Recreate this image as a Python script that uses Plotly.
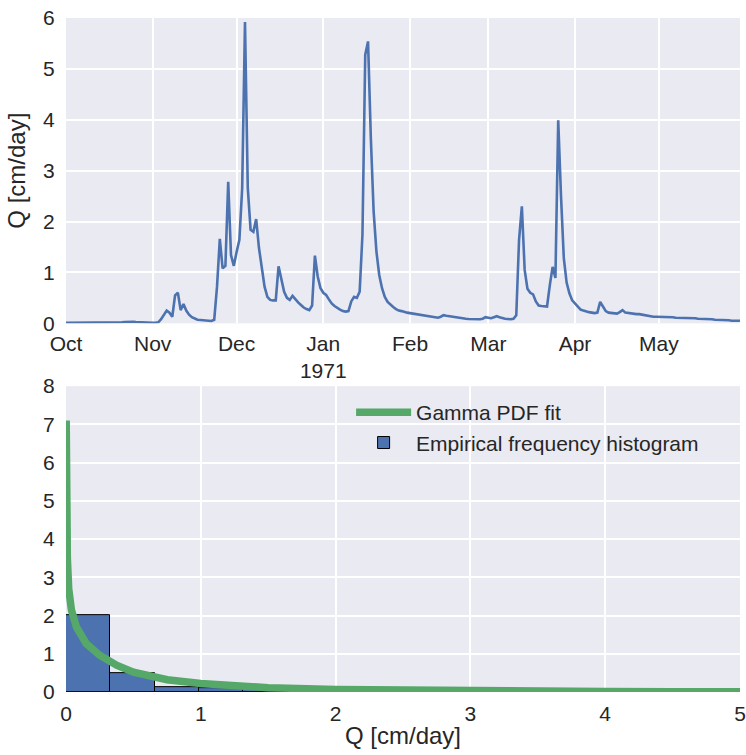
import pandas as pd
import plotly.graph_objects as go

# ---- daily discharge Q [cm/day], Oct 1970 - May 1971 ----
q_oct = [0.01, 0.01, 0.01, 0.01, 0.01, 0.01, 0.01, 0.01, 0.01, 0.01,
         0.01, 0.01, 0.01, 0.01, 0.01, 0.01, 0.01, 0.01, 0.01, 0.015,
         0.02, 0.025, 0.03, 0.035, 0.03, 0.025, 0.02, 0.015, 0.01, 0.01,
         0.01]
q_nov = [0.01, 0.01, 0.02, 0.08, 0.16, 0.25, 0.21, 0.13, 0.55, 0.60,
         0.26, 0.38, 0.25, 0.17, 0.12, 0.09, 0.07, 0.065, 0.06, 0.055,
         0.05, 0.045, 0.07, 0.72, 1.66, 1.08, 1.13, 2.78, 1.34, 1.13]
q_dec = [1.40, 1.64, 2.66, 5.92, 2.66, 1.84, 1.80, 2.05, 1.48, 1.05,
         0.72, 0.52, 0.46, 0.45, 0.45, 1.12, 0.89, 0.62, 0.50, 0.46,
         0.54, 0.47, 0.41, 0.36, 0.31, 0.28, 0.26, 0.35, 1.33, 0.92,
         0.69]
q_jan = [0.60, 0.56, 0.47, 0.39, 0.34, 0.30, 0.27, 0.24, 0.23, 0.24,
         0.43, 0.52, 0.50, 0.62, 1.74, 5.28, 5.54, 3.64, 2.20, 1.41,
         0.95, 0.69, 0.52, 0.42, 0.36, 0.32, 0.28, 0.25, 0.24, 0.22,
         0.21]
q_feb = [0.20, 0.19, 0.18, 0.17, 0.16, 0.15, 0.14, 0.13, 0.12, 0.11,
         0.11, 0.13, 0.16, 0.15, 0.14, 0.13, 0.12, 0.11, 0.10, 0.095,
         0.09, 0.085, 0.08, 0.08, 0.08, 0.08, 0.09, 0.12]
q_mar = [0.11, 0.10, 0.12, 0.14, 0.12, 0.10, 0.09, 0.085, 0.08, 0.09,
         0.16, 1.64, 2.30, 1.05, 0.68, 0.60, 0.57, 0.43, 0.35, 0.34,
         0.34, 0.33, 0.75, 1.11, 0.89, 3.99, 2.50, 1.28, 0.80, 0.59,
         0.45]
q_apr = [0.39, 0.34, 0.27, 0.25, 0.23, 0.22, 0.21, 0.20, 0.21, 0.42,
         0.33, 0.24, 0.21, 0.20, 0.20, 0.19, 0.22, 0.26, 0.21, 0.20,
         0.19, 0.18, 0.18, 0.18, 0.17, 0.16, 0.14, 0.14, 0.13, 0.13]
q_may = [0.13, 0.13, 0.12, 0.12, 0.12, 0.12, 0.11, 0.11, 0.11, 0.11,
         0.10, 0.10, 0.10, 0.10, 0.09, 0.09, 0.09, 0.08, 0.08, 0.08,
         0.07, 0.07, 0.06, 0.06, 0.06, 0.06, 0.05, 0.05, 0.05, 0.05]

start_date = "1970-10-01"
month_ticks = ["1970-10-01", "1970-11-01", "1970-12-01", "1971-01-01",
               "1971-02-01", "1971-03-01", "1971-04-01", "1971-05-01"]
month_labels = ["Oct", "Nov", "Dec", "Jan<br>1971", "Feb", "Mar", "Apr", "May"]

# ---- gamma pdf fit curve ----
gamma_q = [0.0015, 0.003, 0.006, 0.01, 0.02, 0.04, 0.077, 0.15, 0.25, 0.375,
           0.5, 0.75, 1.0, 1.25, 1.5, 2.0, 2.5, 3.0, 3.5, 4.0, 4.5, 5.0]
gamma_pdf = [7.1, 5.4, 4.2, 3.5, 2.7, 2.15, 1.7, 1.27, 0.96, 0.7,
             0.52, 0.32, 0.22, 0.155, 0.113, 0.068, 0.042, 0.027, 0.018, 0.012, 0.008, 0.005]
n_bins = 18

Q = q_oct + q_nov + q_dec + q_jan + q_feb + q_mar + q_apr + q_may
dates = pd.date_range(start_date, periods=len(Q), freq="D")

BLUE = "#4C72B0"
GREEN = "#55A868"
BG = "#EAEAF2"
TXT = "#262626"
FONT = "Liberation Sans, Arial, sans-serif"

fig = go.Figure()
fig.add_trace(go.Scatter(x=dates, y=Q, mode="lines", line=dict(color=BLUE, width=2.6),
                         showlegend=False, xaxis="x", yaxis="y"))
qmax = max(Q)
fig.add_trace(go.Histogram(x=Q, histnorm="probability density",
                           xbins=dict(start=0, end=qmax, size=qmax / n_bins),
                           marker=dict(color=BLUE, line=dict(color="black", width=1)),
                           name="Empirical frequency histogram", xaxis="x2", yaxis="y2"))
fig.add_trace(go.Scatter(x=gamma_q, y=gamma_pdf, mode="lines", line=dict(color=GREEN, width=7.5),
                         name="Gamma PDF fit", xaxis="x2", yaxis="y2"))

base = dict(showgrid=True, gridcolor="white", gridwidth=1.5, zeroline=False,
            showline=False, ticks="outside", tickcolor="rgba(0,0,0,0)", automargin=False,
            tickfont=dict(size=21, color=TXT, family=FONT))

fig.update_layout(
    width=746, height=755,
    margin=dict(l=66, r=6, t=18, b=63),
    paper_bgcolor="white", plot_bgcolor=BG,
    font=dict(family=FONT, color=TXT),
    bargap=0,
    xaxis=dict(domain=[0, 1], anchor="y", type="date",
               range=[dates[0], dates[-1]], tickmode="array",
               tickvals=month_ticks, ticktext=month_labels, ticklen=1, **base),
    yaxis=dict(domain=[0.547, 1.0], anchor="x", range=[0, 6], dtick=1, ticklen=6,
               title=dict(text="Q [cm/day]", font=dict(size=24, color=TXT), standoff=10),
               **base),
    xaxis2=dict(domain=[0, 1], anchor="y2", range=[0, 5], dtick=1, ticklen=3,
                title=dict(text="Q [cm/day]", font=dict(size=24, color=TXT), standoff=2),
                **base),
    yaxis2=dict(domain=[0, 0.4538], anchor="x2", range=[0, 8], dtick=1, ticklen=6, **base),
    legend=dict(x=0.423, y=0.445, xanchor="left", yanchor="top",
                bgcolor="rgba(0,0,0,0)", borderwidth=0, traceorder="reversed",
                font=dict(size=21, color=TXT, family=FONT), itemwidth=55),
)

fig.write_html("out.html", config={"displayModeBar": False},
               post_script="document.body.style.margin='0';")
